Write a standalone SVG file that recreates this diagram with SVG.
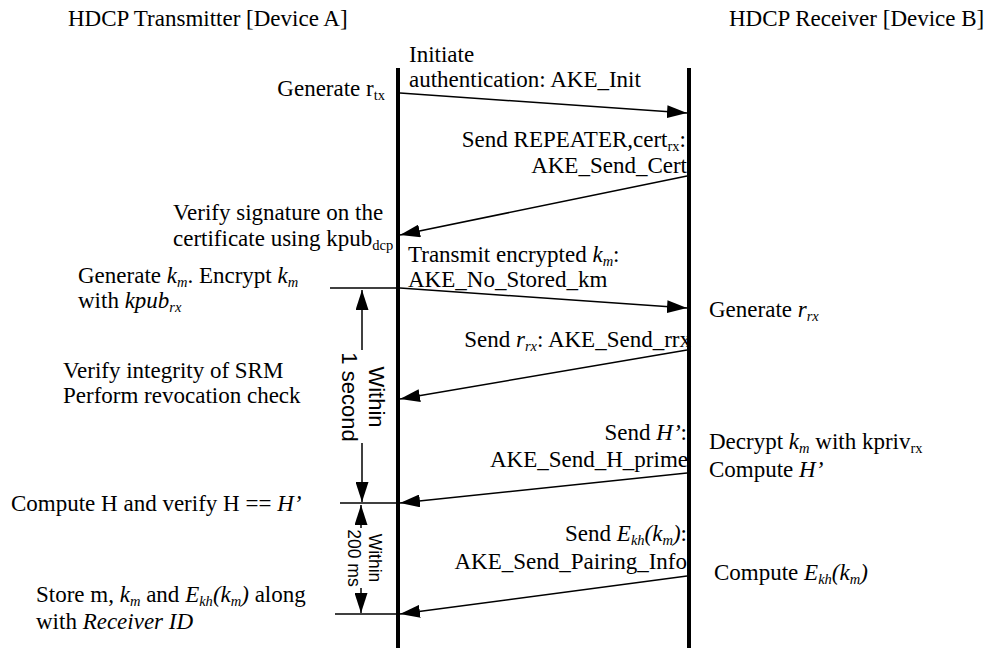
<svg xmlns="http://www.w3.org/2000/svg" width="997" height="648" viewBox="0 0 997 648">
<style>
.t{font-family:"Liberation Serif","Times New Roman",serif;font-size:23px;fill:#000}
.s{font-family:"Liberation Sans",Arial,sans-serif;fill:#000}
.i{font-style:italic}
.sub{font-size:14.5px}
.life{stroke:#000;stroke-width:4;fill:none}
.msg{stroke:#000;stroke-width:1.5;fill:none;marker-end:url(#ah)}
.tick{stroke:#000;stroke-width:1.5;fill:none}
.end{text-anchor:end}
.mid{text-anchor:middle}
</style>
<defs>
<marker id="ah" viewBox="0 0 20 13" refX="20" refY="6.5" markerWidth="20" markerHeight="13" markerUnits="userSpaceOnUse" orient="auto">
<path d="M0,0 L20,6.5 L0,13 Z" fill="#000"/>
</marker>
</defs>
<rect width="997" height="648" fill="#fff"/>

<g id="deviceA">
<text class="t" x="68" y="26">HDCP Transmitter [Device A]</text>
<line class="life" x1="398" y1="68" x2="398" y2="648"/>
</g>
<g id="deviceB">
<text class="t" x="729" y="26">HDCP Receiver [Device B]</text>
<line class="life" x1="689" y1="68" x2="689" y2="648"/>
</g>

<g id="connectors">
<line class="msg" x1="400" y1="93" x2="687" y2="113"/>
<line class="msg" x1="687" y1="176" x2="400" y2="235"/>
<line class="msg" x1="400" y1="288" x2="687" y2="308"/>
<line class="msg" x1="687" y1="350" x2="400" y2="399"/>
<line class="msg" x1="687" y1="473" x2="400" y2="503"/>
<line class="msg" x1="687" y1="576" x2="400" y2="614"/>
<line class="tick" x1="330" y1="288" x2="398" y2="288"/>
<line class="tick" x1="340" y1="503" x2="398" y2="503"/>
<line class="tick" x1="335" y1="614" x2="398" y2="614"/>
<line class="msg" x1="362" y1="350" x2="362" y2="290"/>
<line class="msg" x1="362" y1="443" x2="362" y2="502"/>
<line class="msg" x1="361" y1="528" x2="361" y2="505"/>
<line class="msg" x1="361" y1="588" x2="361" y2="613"/>
</g>

<g id="msg1-label">
<text class="t" x="409" y="62">Initiate</text>
<text class="t" x="409" y="87">authentication: AKE_Init</text>
</g>
<g id="gen-rtx">
<text class="t end" x="385" y="96">Generate r<tspan class="sub" dy="4">tx</tspan></text>
</g>
<g id="msg2-label">
<text class="t end" x="686" y="147">Send REPEATER,cert<tspan class="sub" dy="4">rx</tspan><tspan dy="-4">:</tspan></text>
<text class="t end" x="687" y="173">AKE_Send_Cert</text>
</g>
<g id="verify-sig">
<text class="t" x="173" y="220">Verify signature on the</text>
<text class="t" x="173" y="246">certificate using kpub<tspan class="sub" dy="4">dcp</tspan></text>
</g>
<g id="msg3-label">
<text class="t" x="408" y="262">Transmit encrypted <tspan class="i">k</tspan><tspan class="sub i" dy="4">m</tspan><tspan dy="-4">:</tspan></text>
<text class="t" x="408" y="287">AKE_No_Stored_km</text>
</g>
<g id="gen-km">
<text class="t" x="78" y="283">Generate <tspan class="i">k</tspan><tspan class="sub i" dy="4">m</tspan><tspan dy="-4">. Encrypt </tspan><tspan class="i">k</tspan><tspan class="sub i" dy="4">m</tspan></text>
<text class="t" x="78" y="308">with <tspan class="i">kpub</tspan><tspan class="sub i" dy="4">rx</tspan></text>
</g>
<g id="gen-rrx">
<text class="t" x="709" y="317">Generate <tspan class="i">r</tspan><tspan class="sub i" dy="4">rx</tspan></text>
</g>
<g id="msg4-label">
<text class="t end" x="691" y="347">Send <tspan class="i">r</tspan><tspan class="sub i" dy="4">rx</tspan><tspan dy="-4">: AKE_Send_rrx</tspan></text>
</g>
<g id="verify-srm">
<text class="t" x="63" y="378">Verify integrity of SRM</text>
<text class="t" x="63" y="403">Perform revocation check</text>
</g>
<g id="within-1s">
<text class="s mid" font-size="22" transform="translate(369,397) rotate(90)">Within</text>
<text class="s mid" font-size="22" transform="translate(342,397) rotate(90)">1 second</text>
</g>
<g id="msg5-label">
<text class="t end" x="687" y="440">Send <tspan class="i">H’</tspan>:</text>
<text class="t end" x="688" y="467">AKE_Send_H_prime</text>
</g>
<g id="decrypt">
<text class="t" x="709" y="449">Decrypt <tspan class="i">k</tspan><tspan class="sub i" dy="4">m</tspan><tspan dy="-4"> with kpriv</tspan><tspan class="sub" dy="4">rx</tspan></text>
<text class="t" x="709" y="477">Compute <tspan class="i">H’</tspan></text>
</g>
<g id="compute-h">
<text class="t" x="11" y="511">Compute H and verify H == <tspan class="i">H’</tspan></text>
</g>
<g id="within-200ms">
<text class="s mid" font-size="17.5" transform="translate(369,558) rotate(90)">Within</text>
<text class="s mid" font-size="17.5" transform="translate(348,558) rotate(90)">200 ms</text>
</g>
<g id="msg6-label">
<text class="t end" x="687" y="541">Send <tspan class="i">E</tspan><tspan class="sub i" dy="4">kh</tspan><tspan class="i" dy="-4">(k</tspan><tspan class="sub i" dy="4">m</tspan><tspan class="i" dy="-4">)</tspan>:</text>
<text class="t end" x="687" y="569">AKE_Send_Pairing_Info</text>
</g>
<g id="compute-ekh">
<text class="t" x="714" y="580">Compute <tspan class="i">E</tspan><tspan class="sub i" dy="4">kh</tspan><tspan class="i" dy="-4">(k</tspan><tspan class="sub i" dy="4">m</tspan><tspan class="i" dy="-4">)</tspan></text>
</g>
<g id="store">
<text class="t" x="36" y="602">Store m, <tspan class="i">k</tspan><tspan class="sub i" dy="4">m</tspan><tspan dy="-4"> and </tspan><tspan class="i">E</tspan><tspan class="sub i" dy="4">kh</tspan><tspan class="i" dy="-4">(k</tspan><tspan class="sub i" dy="4">m</tspan><tspan class="i" dy="-4">)</tspan><tspan> along</tspan></text>
<text class="t" x="36" y="629">with <tspan class="i">Receiver ID</tspan></text>
</g>
</svg>
